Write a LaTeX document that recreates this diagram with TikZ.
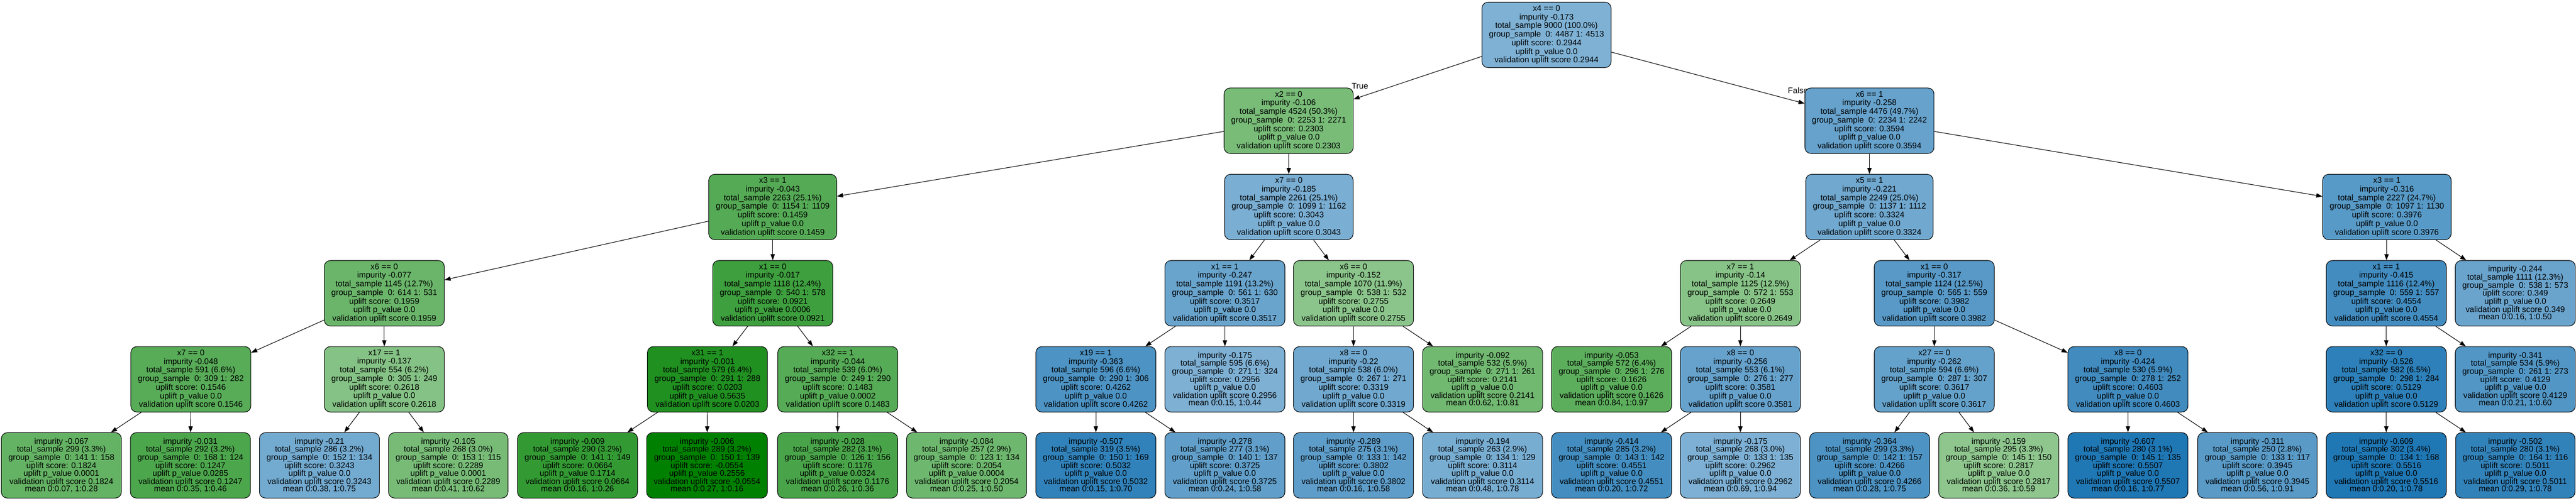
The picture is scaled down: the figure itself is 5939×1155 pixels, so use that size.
\documentclass[tikz,border=0pt]{standalone}
\usepackage{fontspec}
\setmainfont{Liberation Sans}
\usetikzlibrary{arrows.meta}
\pgfdeclarelayer{bgl}
\pgfdeclarelayer{edgel}
\pgfsetlayers{bgl,edgel,main}
\definecolor{ub}{RGB}{31,119,180}
\definecolor{ug}{RGB}{0,128,0}
\newcommand{\dtInner}[8]{#1\\impurity #2\\total\_sample #3 (#4\%)\\group\_sample\ \ 0: #5 1: #6\\uplift score: #7\\uplift p\_value #8\\validation uplift score #7}
\newcommand{\dtLeaf}[9]{impurity #1\\total\_sample #2 (#3\%)\\group\_sample\ \ 0: #4 1: #5\\uplift score: #6\\uplift p\_value #7\\validation uplift score #6\\mean 0:#8, 1:#9}
\tikzset{
  dtbox/.style={draw=black, line width=1.3pt, rounded corners=14pt, align=center, inner xsep=16.3pt, inner ysep=0pt, minimum height=151pt},
  dtin/.style={dtbox, font=\fontsize{18.9pt}{19.9pt}\selectfont},
  dtlf/.style={dtbox, font=\fontsize{18.9pt}{17.15pt}\selectfont},
  dtedge/.style={line width=1.3pt, -{Triangle[length=14pt,width=10pt]}},
  dtlab/.style={font=\fontsize{18.9pt}{19.9pt}\selectfont, inner sep=0pt, anchor=base west}
}
\begin{document}
\begin{tikzpicture}[x=1pt,y=-1pt]
\useasboundingbox (0,0) rectangle (5939,1155);
\begin{pgfonlayer}{bgl}
\fill[white] (0,0) rectangle (5939,1155);
\end{pgfonlayer}
% level 0
\node[dtin, fill=ub!57.6!white] (n0) at (3565.5,80.5) {\dtInner{x4 == 0}{-0.173}{9000}{100.0}{4487}{4513}{0.2944}{0.0}};
% level 1
\node[dtin, fill=ug!52.9!white] (a) at (2971,278.5) {\dtInner{x2 == 0}{-0.106}{4524}{50.3}{2253}{2271}{0.2303}{0.0}};
\node[dtin, fill=ub!68.3!white] (b) at (4310,278.5) {\dtInner{x6 == 1}{-0.258}{4476}{49.7}{2234}{2242}{0.3594}{0.0}};
% level 2
\node[dtin, fill=ug!66.8!white] (c) at (1781.5,477.5) {\dtInner{x3 == 1}{-0.043}{2263}{25.1}{1154}{1109}{0.1459}{0.0}};
\node[dtin, fill=ub!59.3!white] (d) at (2971.5,477.5) {\dtInner{x7 == 0}{-0.185}{2261}{25.1}{1099}{1162}{0.3043}{0.0}};
\node[dtin, fill=ub!63.9!white] (e) at (4310,477.5) {\dtInner{x5 == 1}{-0.221}{2249}{25.0}{1137}{1112}{0.3324}{0.0}};
\node[dtin, fill=ub!74.6!white] (f) at (5503,477.5) {\dtInner{x3 == 1}{-0.316}{2227}{24.7}{1097}{1130}{0.3976}{0.0}};
% level 3
\node[dtin, fill=ug!58.6!white] (g) at (886,676.5) {\dtInner{x6 == 0}{-0.077}{1145}{12.7}{614}{531}{0.1959}{0.0}};
\node[dtin, fill=ug!75.7!white] (h) at (1781.5,676.5) {\dtInner{x1 == 0}{-0.017}{1118}{12.4}{540}{578}{0.0921}{0.0006}};
\node[dtin, fill=ub!67.1!white] (i) at (2824,676.5) {\dtInner{x1 == 1}{-0.247}{1191}{13.2}{561}{630}{0.3517}{0.0}};
\node[dtin, fill=ug!45.5!white] (j) at (3120.5,676.5) {\dtInner{x6 == 0}{-0.152}{1070}{11.9}{538}{532}{0.2755}{0.0}};
\node[dtin, fill=ug!47.2!white] (k) at (4012.5,676.5) {\dtInner{x7 == 1}{-0.14}{1125}{12.5}{572}{553}{0.2649}{0.0}};
\node[dtin, fill=ub!74.7!white] (l) at (4459.5,676.5) {\dtInner{x1 == 0}{-0.317}{1124}{12.5}{565}{559}{0.3982}{0.0}};
\node[dtin, fill=ub!84.2!white] (m) at (5501.5,676.5) {\dtInner{x1 == 1}{-0.415}{1116}{12.4}{559}{557}{0.4554}{0.0}};
\node[dtlf, fill=ub!66.6!white] (nl) at (5799,676.5) {\dtLeaf{-0.244}{1111}{12.3}{538}{573}{0.349}{0.0}{0.16}{0.50}};
% level 4
\node[dtin, fill=ug!65.4!white] (p1) at (440,875) {\dtInner{x7 == 0}{-0.048}{591}{6.6}{309}{282}{0.1546}{0.0}};
\node[dtin, fill=ug!47.7!white] (p2) at (886,875) {\dtInner{x17 == 1}{-0.137}{554}{6.2}{305}{249}{0.2618}{0.0}};
\node[dtin, fill=ug!87.5!white] (p3) at (1631,875) {\dtInner{x31 == 1}{-0.001}{579}{6.4}{291}{288}{0.0203}{0.5635}};
\node[dtin, fill=ug!66.4!white] (p4) at (1931.5,875) {\dtInner{x32 == 1}{-0.044}{539}{6.0}{249}{290}{0.1483}{0.0002}};
\node[dtin, fill=ub!79.3!white] (p5) at (2526.5,875) {\dtInner{x19 == 1}{-0.363}{596}{6.6}{290}{306}{0.4262}{0.0}};
\node[dtlf, fill=ub!57.8!white] (p6) at (2824,875) {\dtLeaf{-0.175}{595}{6.6}{271}{324}{0.2956}{0.0}{0.15}{0.44}};
\node[dtin, fill=ub!63.8!white] (p7) at (3120.5,875) {\dtInner{x8 == 0}{-0.22}{538}{6.0}{267}{271}{0.3319}{0.0}};
\node[dtlf, fill=ug!55.6!white] (p8) at (3418,875) {\dtLeaf{-0.092}{532}{5.9}{271}{261}{0.2141}{0.0}{0.62}{0.81}};
\node[dtlf, fill=ug!64.1!white] (p9) at (3715.5,875) {\dtLeaf{-0.053}{572}{6.4}{296}{276}{0.1626}{0.0}{0.84}{0.97}};
\node[dtin, fill=ub!68.1!white] (p10) at (4012.5,875) {\dtInner{x8 == 0}{-0.256}{553}{6.1}{276}{277}{0.3581}{0.0}};
\node[dtin, fill=ub!68.7!white] (p11) at (4459.5,875) {\dtInner{x27 == 0}{-0.262}{594}{6.6}{287}{307}{0.3617}{0.0}};
\node[dtin, fill=ub!85.0!white] (p12) at (4906,875) {\dtInner{x8 == 0}{-0.424}{530}{5.9}{278}{252}{0.4603}{0.0}};
\node[dtin, fill=ub!93.6!white] (p13) at (5501.5,875) {\dtInner{x32 == 0}{-0.526}{582}{6.5}{298}{284}{0.5129}{0.0}};
\node[dtlf, fill=ub!77.2!white] (p14) at (5799,875) {\dtLeaf{-0.341}{534}{5.9}{261}{273}{0.4129}{0.0}{0.21}{0.60}};
% level 5
\node[dtlf, fill=ug!60.8!white] (q1) at (141.5,1073.5) {\dtLeaf{-0.067}{299}{3.3}{141}{158}{0.1824}{0.0001}{0.07}{0.28}};
\node[dtlf, fill=ug!70.3!white] (q2) at (439,1073.5) {\dtLeaf{-0.031}{292}{3.2}{168}{124}{0.1247}{0.0285}{0.35}{0.46}};
\node[dtlf, fill=ub!62.6!white] (q3) at (736.5,1073.5) {\dtLeaf{-0.21}{286}{3.2}{152}{134}{0.3243}{0.0}{0.38}{0.75}};
\node[dtlf, fill=ug!53.2!white] (q4) at (1033.5,1073.5) {\dtLeaf{-0.105}{268}{3.0}{153}{115}{0.2289}{0.0001}{0.41}{0.62}};
\node[dtlf, fill=ug!79.9!white] (q5) at (1331.5,1073.5) {\dtLeaf{-0.009}{290}{3.2}{141}{149}{0.0664}{0.1714}{0.16}{0.26}};
\node[dtlf, fill=ug] (q6) at (1630,1073.5) {\dtLeaf{-0.006}{289}{3.2}{150}{139}{-0.0554}{0.2556}{0.27}{0.16}};
\node[dtlf, fill=ug!71.5!white] (q7) at (1931,1073.5) {\dtLeaf{-0.028}{282}{3.1}{126}{156}{0.1176}{0.0324}{0.26}{0.36}};
\node[dtlf, fill=ug!57.0!white] (q8) at (2228.5,1073.5) {\dtLeaf{-0.084}{257}{2.9}{123}{134}{0.2054}{0.0004}{0.25}{0.50}};
\node[dtlf, fill=ub!92.0!white] (q9) at (2526.5,1073.5) {\dtLeaf{-0.507}{319}{3.5}{150}{169}{0.5032}{0.0}{0.15}{0.70}};
\node[dtlf, fill=ub!70.5!white] (q10) at (2824,1073.5) {\dtLeaf{-0.278}{277}{3.1}{140}{137}{0.3725}{0.0}{0.24}{0.58}};
\node[dtlf, fill=ub!71.8!white] (q11) at (3120.5,1073.5) {\dtLeaf{-0.289}{275}{3.1}{133}{142}{0.3802}{0.0}{0.16}{0.58}};
\node[dtlf, fill=ub!60.4!white] (q12) at (3418,1073.5) {\dtLeaf{-0.194}{263}{2.9}{134}{129}{0.3114}{0.0}{0.48}{0.78}};
\node[dtlf, fill=ub!84.1!white] (q13) at (3715.5,1073.5) {\dtLeaf{-0.414}{285}{3.2}{143}{142}{0.4551}{0.0}{0.20}{0.72}};
\node[dtlf, fill=ub!57.9!white] (q14) at (4012.5,1073.5) {\dtLeaf{-0.175}{268}{3.0}{133}{135}{0.2962}{0.0}{0.69}{0.94}};
\node[dtlf, fill=ub!79.4!white] (q15) at (4310.5,1073.5) {\dtLeaf{-0.364}{299}{3.3}{142}{157}{0.4266}{0.0}{0.28}{0.75}};
\node[dtlf, fill=ug!44.5!white] (q16) at (4608,1073.5) {\dtLeaf{-0.159}{295}{3.3}{145}{150}{0.2817}{0.0}{0.36}{0.59}};
\node[dtlf, fill=ub!99.9!white] (q17) at (4906,1073.5) {\dtLeaf{-0.607}{280}{3.1}{145}{135}{0.5507}{0.0}{0.16}{0.77}};
\node[dtlf, fill=ub!74.1!white] (q18) at (5204.5,1073.5) {\dtLeaf{-0.311}{250}{2.8}{133}{117}{0.3945}{0.0}{0.56}{0.91}};
\node[dtlf, fill=ub] (q19) at (5501.5,1073.5) {\dtLeaf{-0.609}{302}{3.4}{134}{168}{0.5516}{0.0}{0.20}{0.78}};
\node[dtlf, fill=ub!91.7!white] (q20) at (5799,1073.5) {\dtLeaf{-0.502}{280}{3.1}{164}{116}{0.5011}{0.0}{0.29}{0.78}};
% edges and labels
\begin{pgfonlayer}{edgel}
\foreach \s/\t in {n0/a,n0/b,a/c,a/d,b/e,b/f,c/g,c/h,d/i,d/j,e/k,e/l,f/m,f/nl,
  g/p1,g/p2,h/p3,h/p4,i/p5,i/p6,j/p7,j/p8,k/p9,k/p10,l/p11,l/p12,m/p13,m/p14,
  p1/q1,p1/q2,p2/q3,p2/q4,p3/q5,p3/q6,p4/q7,p4/q8,p5/q9,p5/q10,p7/q11,p7/q12,
  p10/q13,p10/q14,p11/q15,p11/q16,p12/q17,p12/q18,p13/q19,p13/q20}
  \draw[dtedge] (\s) -- (\t);
\node[dtlab] (tlab) at (3116,205) {True};
\node[dtlab] (flab) at (4122,215) {False};
\end{pgfonlayer}
\end{tikzpicture}
\end{document}
